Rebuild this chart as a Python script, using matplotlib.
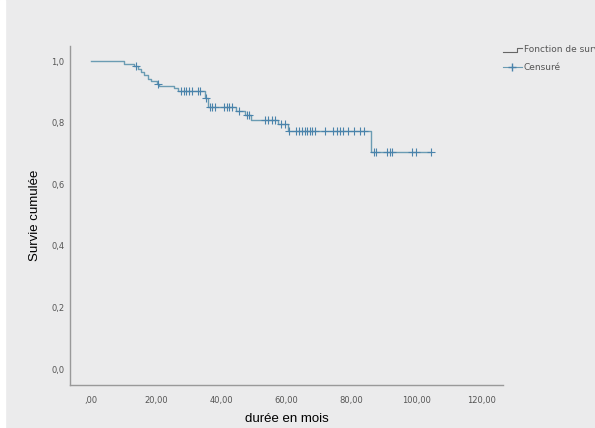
import matplotlib.pyplot as plt
import numpy as np

# step points of the Kaplan-Meier curve (time, survival after the drop)
step_times = [0, 10.0, 13.3, 14.3, 15.4, 16.4, 17.4, 18.5, 20.2, 21.0, 25.6, 26.7,
              34.9, 35.9, 44.6, 47.2, 49.2, 57.5, 60.5, 86.0]
step_surv = [1.0, 0.991, 0.985, 0.976, 0.966, 0.955, 0.944, 0.936, 0.928, 0.921, 0.913, 0.903,
             0.88, 0.852, 0.838, 0.826, 0.81, 0.795, 0.773, 0.705]
censored_times = [13.8, 20.7, 27.5, 28.5, 29.2, 30.0, 31.0, 32.8, 33.6, 35.2, 36.5, 37.2, 38.2,
                  41.0, 41.8, 42.5, 43.3, 45.5, 47.8, 48.5, 53.5, 54.5, 55.5, 56.5, 58.3, 59.5,
                  61.0, 63.0, 64.0, 65.0, 65.8, 66.5, 67.3, 68.0, 69.0, 71.8, 74.3, 75.5, 76.5,
                  77.5, 78.9, 81.0, 82.6, 84.0, 86.9, 87.7, 91.0, 91.8, 92.6, 98.8, 99.8, 104.6]

x_ticks = [0, 20, 40, 60, 80, 100, 120]
x_labels = [',00', '20,00', '40,00', '60,00', '80,00', '100,00', '120,00']
y_ticks = [0.0, 0.2, 0.4, 0.6, 0.8, 1.0]
y_labels = ['0,0', '0,2', '0,4', '0,6', '0,8', '1,0']

bg = '#ebebec'
line_col = '#6b9cb3'
mark_col = '#4a83ab'

fig = plt.figure(figsize=(5.95, 4.28), dpi=100, facecolor=bg)
# thin white strip on the left edge
fig.add_artist(plt.Rectangle((0, 0), 5 / 595, 1, color='white', transform=fig.transFigure, zorder=0))
ax = fig.add_axes([70 / 595, 1 - 385 / 428, 433 / 595, 339 / 428])
ax.set_facecolor(bg)

t = step_times + [max(censored_times)]
s = step_surv + [step_surv[-1]]
ax.step(t, s, where='post', color=line_col, lw=1.0)

st = np.array(step_times)
idx = np.searchsorted(st, censored_times, side='right') - 1
cens_surv = np.array(step_surv)[idx]
ax.plot(censored_times, cens_surv, ls='none', marker='+', ms=6, mew=0.8, color=mark_col)

ax.set_xlim(-6.5, 126.7)
ax.set_ylim(-0.052, 1.05)
ax.set_xticks(x_ticks)
ax.set_xticklabels(x_labels)
ax.set_yticks(y_ticks)
ax.set_yticklabels(y_labels)
ax.tick_params(length=0, labelsize=6, labelcolor='#555555')
ax.tick_params(axis='x', pad=8)
ax.tick_params(axis='y', pad=4)
for side in ['top', 'right']:
    ax.spines[side].set_visible(False)
for side in ['left', 'bottom']:
    ax.spines[side].set_color('#999999')
    ax.spines[side].set_linewidth(1.0)

ax.set_xlabel('durée en mois', fontsize=9.5, family='Liberation Sans', labelpad=6)
ax.set_ylabel('Survie cumulée', fontsize=9.5, family='Liberation Sans', labelpad=7)

# legend drawn by hand so the long label gets clipped at the figure edge
fig.add_artist(plt.Line2D([503 / 595, 517 / 595, 517 / 595, 522 / 595],
                          [1 - 52 / 428, 1 - 52 / 428, 1 - 48 / 428, 1 - 48 / 428],
                          color='#666666', lw=0.8))
fig.add_artist(plt.Line2D([503 / 595, 522 / 595], [1 - 67 / 428, 1 - 67 / 428],
                          color=line_col, lw=0.8))
fig.add_artist(plt.Line2D([512 / 595], [1 - 67 / 428], marker='+', ms=6, color=mark_col))
fig.text(524 / 595, 1 - 50 / 428, 'Fonction de survie', fontsize=6.5, color='#555555', va='center')
fig.text(524 / 595, 1 - 67 / 428, 'Censuré', fontsize=6.5, color='#555555', va='center')

fig.savefig('out.png', dpi=100, facecolor=bg)
